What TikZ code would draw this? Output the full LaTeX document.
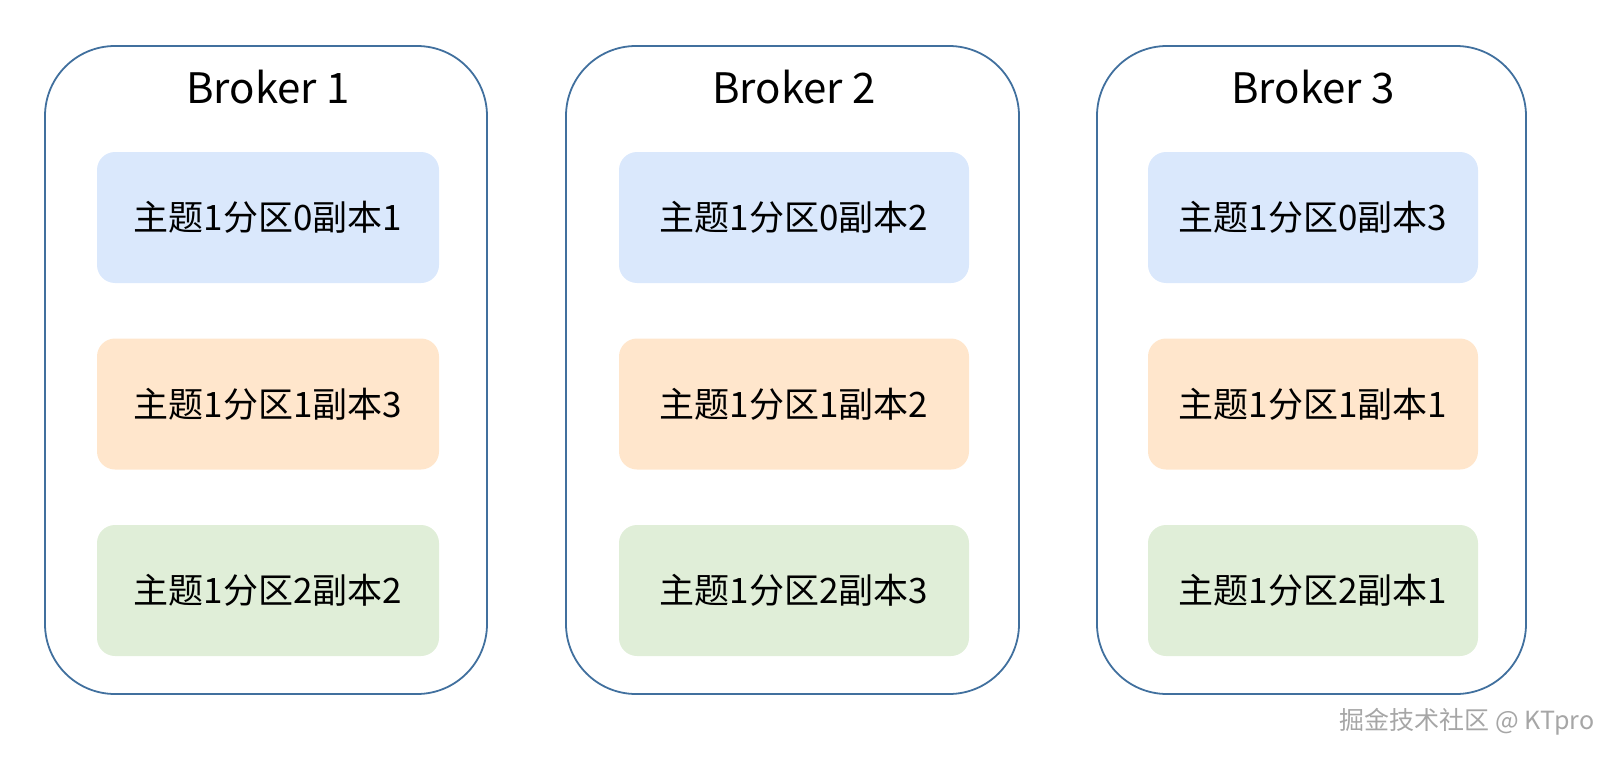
\documentclass[tikz,border=0pt]{standalone}
\usepackage{fontspec}
\setmainfont{Noto Sans CJK SC}
\definecolor{brokerline}{HTML}{41709E}
\definecolor{partblue}{HTML}{DAE8FC}
\definecolor{partorange}{HTML}{FFE6CC}
\definecolor{partgreen}{HTML}{E0EED8}

\begin{document}
\begin{tikzpicture}[x=1pt,y=-1pt,
    broker/.style={draw=brokerline, line width=1.8pt, rounded corners=70pt, minimum height=648pt},
    title/.style={font=\fontsize{42}{48}\selectfont},
    part/.style={rounded corners=18pt, minimum height=131pt, font=\fontsize{35}{42}\selectfont}]
    \useasboundingbox (0,0) rectangle (1618,760);
    % brokers
    \node[broker, minimum width=442pt] (b1) at (266,370) {};
    \node[broker, minimum width=453pt] (b2) at (792.5,370) {};
    \node[broker, minimum width=429pt] (b3) at (1311.5,370) {};
    \node[title] (t1) at (268,87) {Broker 1};
    \node[title] (t2) at (794,87) {Broker 2};
    \node[title] (t3) at (1313,87) {Broker 3};
    % partitions
    \node[part, fill=partblue, minimum width=342pt] (p10) at (268,217.5) {主题1分区0副本1};
    \node[part, fill=partorange, minimum width=342pt] (p11) at (268,404) {主题1分区1副本3};
    \node[part, fill=partgreen, minimum width=342pt] (p12) at (268,590.5) {主题1分区2副本2};
    \node[part, fill=partblue, minimum width=350pt] (p20) at (794,217.5) {主题1分区0副本2};
    \node[part, fill=partorange, minimum width=350pt] (p21) at (794,404) {主题1分区1副本2};
    \node[part, fill=partgreen, minimum width=350pt] (p22) at (794,590.5) {主题1分区2副本3};
    \node[part, fill=partblue, minimum width=330pt] (p30) at (1313,217.5) {主题1分区0副本3};
    \node[part, fill=partorange, minimum width=330pt] (p31) at (1313,404) {主题1分区1副本1};
    \node[part, fill=partgreen, minimum width=330pt] (p32) at (1313,590.5) {主题1分区2副本1};
    % watermark
    \node[text=gray!70, font=\fontsize{25}{30}\selectfont] (wm) at (1467,722) {掘金技术社区 @ KTpro};
\end{tikzpicture}
\end{document}
